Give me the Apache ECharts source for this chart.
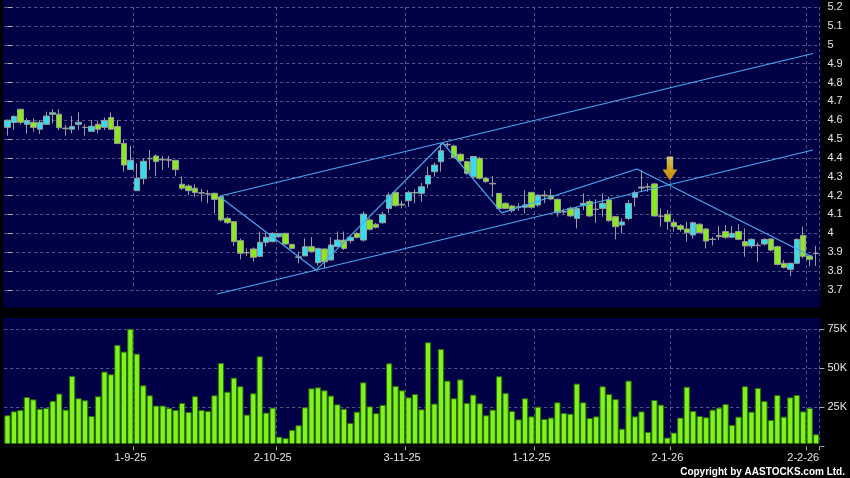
<!DOCTYPE html>
<html><head><meta charset="utf-8">
<script src="https://cdn.jsdelivr.net/npm/echarts@6/dist/echarts.min.js"></script>
<style>html,body{margin:0;padding:0;background:#000;}#c{width:850px;height:478px;}</style>
</head><body><div id="c"></div>
<script>
const categories = [
'5-8-25','6-8-25','7-8-25','8-8-25','11-8-25','12-8-25','13-8-25','14-8-25','15-8-25','18-8-25',
'19-8-25','20-8-25','21-8-25','22-8-25','25-8-25','26-8-25','27-8-25','28-8-25','29-8-25','1-9-25',
'2-9-25','3-9-25','4-9-25','5-9-25','8-9-25','9-9-25','10-9-25','11-9-25','12-9-25','15-9-25',
'16-9-25','17-9-25','18-9-25','19-9-25','22-9-25','23-9-25','24-9-25','25-9-25','26-9-25','29-9-25',
'30-9-25','2-10-25','3-10-25','6-10-25','8-10-25','9-10-25','10-10-25','13-10-25','14-10-25','15-10-25',
'16-10-25','17-10-25','20-10-25','21-10-25','22-10-25','23-10-25','24-10-25','27-10-25','28-10-25','30-10-25',
'31-10-25','3-11-25','4-11-25','5-11-25','6-11-25','7-11-25','10-11-25','11-11-25','12-11-25','13-11-25',
'14-11-25','17-11-25','18-11-25','19-11-25','20-11-25','21-11-25','24-11-25','25-11-25','26-11-25','27-11-25',
'28-11-25','1-12-25','2-12-25','3-12-25','4-12-25','5-12-25','8-12-25','9-12-25','10-12-25','11-12-25',
'12-12-25','15-12-25','16-12-25','17-12-25','18-12-25','19-12-25','22-12-25','23-12-25','24-12-25','29-12-25',
'30-12-25','31-12-25','2-1-26','5-1-26','6-1-26','7-1-26','8-1-26','9-1-26','12-1-26','13-1-26',
'14-1-26','15-1-26','16-1-26','19-1-26','20-1-26','21-1-26','22-1-26','23-1-26','26-1-26','27-1-26',
'28-1-26','29-1-26','30-1-26','2-2-26','3-2-26','4-2-26'];
const tickLabels = ['1-9-25','2-10-25','3-11-25','1-12-25','2-1-26','2-2-26'];

const opens = [4.562,4.588,4.658,4.578,4.589,4.552,4.578,4.631,4.632,4.558,
4.552,4.578,4.562,4.541,4.578,4.562,4.614,4.566,4.477,4.339,
4.226,4.290,4.395,4.410,4.393,4.390,4.387,4.260,4.251,4.239,
4.215,4.210,4.212,4.194,4.079,4.062,3.961,3.898,3.917,3.878,
3.952,3.956,3.982,4.000,3.941,3.875,3.880,3.929,3.844,3.917,
3.858,3.929,3.964,3.961,4.000,3.964,4.071,4.048,4.056,4.132,
4.217,4.155,4.173,4.217,4.212,4.262,4.327,4.380,4.470,4.463,
4.419,4.380,4.300,4.398,4.292,4.265,4.212,4.159,4.145,4.140,
4.138,4.217,4.150,4.203,4.200,4.180,4.115,4.133,4.079,4.147,
4.168,4.128,4.132,4.177,4.088,4.044,4.079,4.191,4.240,4.247,
4.262,4.092,4.101,4.058,4.040,4.023,3.991,4.048,4.023,3.969,
3.988,4.009,3.979,4.009,3.956,3.933,3.937,3.943,3.970,3.929,
3.841,3.809,3.841,3.988,3.880,3.894];
const closes = [4.600,4.620,4.589,4.598,4.562,4.589,4.622,4.640,4.560,4.555,
4.566,4.589,4.561,4.568,4.552,4.599,4.552,4.477,4.362,4.387,
4.292,4.382,4.398,4.381,4.389,4.388,4.338,4.239,4.226,4.216,
4.213,4.208,4.180,4.071,4.056,3.956,3.894,3.896,3.873,3.952,
3.979,4.000,3.998,3.943,3.920,3.872,3.929,3.903,3.920,3.849,
3.938,3.964,3.920,3.979,3.978,4.102,4.021,4.032,4.101,4.203,
4.147,4.150,4.217,4.214,4.247,4.306,4.362,4.438,4.472,4.401,
4.384,4.318,4.407,4.292,4.274,4.262,4.132,4.132,4.120,4.139,
4.150,4.138,4.203,4.198,4.182,4.109,4.113,4.092,4.131,4.159,
4.092,4.126,4.159,4.067,4.035,4.060,4.159,4.216,4.245,4.245,
4.092,4.090,4.062,4.035,4.021,4.003,4.056,4.003,3.959,3.967,
3.982,3.979,4.000,3.968,3.933,3.968,3.935,3.968,3.911,3.835,
3.819,3.841,3.968,3.878,3.862,3.892];
const lows = [4.518,4.550,4.578,4.530,4.539,4.527,4.576,4.583,4.548,4.518,
4.530,4.550,4.518,4.539,4.530,4.548,4.548,4.472,4.327,4.339,
4.226,4.260,4.336,4.304,4.336,4.348,4.304,4.230,4.203,4.193,
4.168,4.159,4.106,4.062,4.050,3.933,3.862,3.880,3.850,3.873,
3.930,3.952,3.975,3.938,3.915,3.841,3.880,3.903,3.830,3.814,
3.858,3.929,3.911,3.947,3.973,3.956,4.015,4.025,4.050,4.106,
4.141,4.132,4.141,4.159,4.168,4.239,4.300,4.327,4.458,4.398,
4.375,4.310,4.292,4.285,4.268,4.194,4.124,4.128,4.110,4.120,
4.106,4.130,4.140,4.160,4.175,4.088,4.100,4.088,4.026,4.124,
4.085,4.056,4.088,4.062,3.968,4.000,4.070,4.141,4.221,4.221,
4.088,4.035,4.018,4.009,4.009,3.956,3.973,4.000,3.920,3.935,
3.965,3.970,3.975,3.964,3.876,3.920,3.849,3.935,3.903,3.830,
3.814,3.773,3.837,3.867,3.827,3.827];
const highs = [4.602,4.625,4.660,4.610,4.610,4.601,4.645,4.659,4.659,4.575,
4.622,4.641,4.578,4.601,4.597,4.614,4.641,4.601,4.499,4.463,
4.371,4.398,4.442,4.419,4.410,4.410,4.390,4.302,4.260,4.260,
4.235,4.230,4.216,4.200,4.088,4.062,3.973,3.920,3.925,4.009,
4.004,4.005,4.002,4.002,3.945,3.903,3.973,3.979,3.920,3.920,
3.979,4.009,4.009,3.991,4.005,4.115,4.080,4.055,4.115,4.216,
4.222,4.173,4.226,4.233,4.267,4.353,4.375,4.477,4.482,4.470,
4.425,4.385,4.410,4.405,4.300,4.304,4.212,4.165,4.150,4.160,
4.228,4.220,4.205,4.226,4.235,4.185,4.130,4.141,4.141,4.212,
4.180,4.180,4.212,4.194,4.092,4.079,4.177,4.226,4.336,4.265,
4.269,4.132,4.124,4.074,4.049,4.062,4.062,4.053,4.026,3.982,
4.040,4.044,4.039,4.049,4.026,3.973,3.950,3.973,3.975,3.935,
3.858,3.845,3.973,4.035,3.885,3.933];
// volume, thousands of shares
const volumes = [19.9,22.4,23.3,31.6,30.1,24.1,24.6,29.1,33.8,23.5,
45.1,30.8,29.5,19.4,32.1,47.9,46.2,65.0,60.7,77.8,
59.4,39.1,32.7,26.1,26.1,24.6,23.3,27.8,22.0,32.1,
23.3,22.6,32.7,53.4,35.0,44.0,38.5,20.3,34.0,57.7,
21.6,24.8,6.2,5.3,10.5,13.5,25.0,37.2,37.8,35.9,
32.5,26.9,24.1,15.0,22.2,41.0,25.6,21.2,26.5,53.2,
38.7,35.9,31.4,33.5,23.7,66.7,27.4,62.4,42.1,30.8,
42.9,27.8,33.1,27.6,19.9,23.5,44.9,34.2,22.6,17.3,
30.8,19.2,25.4,17.5,18.4,28.2,21.4,20.9,40.2,28.2,
18.2,19.2,38.5,33.5,30.3,11.3,42.1,19.2,22.4,9.2,
29.7,26.7,5.6,8.8,18.4,38.2,22.6,19.4,18.6,23.5,
24.8,27.1,13.7,19.0,38.5,22.2,37.4,29.1,16.9,32.9,
19.0,31.4,32.9,22.4,24.6,7.7];

// trend-line annotations: [day index, price]
const zigzag = [[32.86,4.193],[47.7,3.805],[67.3,4.479],[76.4,4.108],[97.3,4.341],[124.5,3.874]];
const upperChannel = [[32.86,4.198],[124.5,4.954]];
const lowerChannel = [[32.4,3.678],[124.5,4.442]];
const signalArrow = [[102.4,4.344]];

const N = categories.length;
const GRID_LINE = '#58588e';
const TXT = '#e6e6e6';
const FONT = 'Liberation Sans';
const splitAt = (i) => i > 0 && tickLabels.indexOf(categories[i-1]) >= 0;

const chart = echarts.init(document.getElementById('c'), null, {renderer:'canvas'});
const trend = (d) => ({
  type:'line', xAxisIndex:2, yAxisIndex:0, data:d, showSymbol:false, clip:false, silent:true,
  lineStyle:{color:'#4aa8ee', width:1.2}, z:5, animation:false
});
chart.setOption({
  backgroundColor:'#000',
  animation:false,
  graphic:[
    {type:'rect', z:-100, shape:{x:3, y:0, width:817.5, height:307.5}, style:{fill:'#000046'}, silent:true},
    {type:'rect', z:-100, shape:{x:3, y:318, width:817.5, height:125.5}, style:{fill:'#000046'}, silent:true},
    {type:'rect', z:100, shape:{x:0, y:443.5, width:822, height:2.8}, style:{fill:'#000'}, silent:true},
    {type:'text', z:100, x:845, y:472, style:{text:'Copyright by AASTOCKS.com Ltd.', fill:'#ffffff',
      fontFamily:FONT, fontSize:10, fontWeight:'bold', align:'right', verticalAlign:'middle'}}
  ],
  grid:[
    {left:4.2, width:815.2, top:7.1, height:282.75, outerBoundsMode:'none'},
    {left:4.2, width:815.2, top:329.3, height:117, outerBoundsMode:'none'}
  ],
  xAxis:[
    {type:'category', gridIndex:0, data:categories, boundaryGap:true,
     axisLine:{show:false}, axisTick:{show:false}, axisLabel:{show:false},
     splitLine:{show:true, interval:splitAt, lineStyle:{color:GRID_LINE, type:[3,3], width:1}}},
    {type:'category', gridIndex:1, data:categories, boundaryGap:true,
     axisLine:{show:false},
     axisTick:{show:true, interval:splitAt, length:4, lineStyle:{color:'#b0b0b0'}},
     axisLabel:{show:true, interval:(i,v)=>tickLabels.indexOf(v)>=0, color:TXT, fontSize:11, fontFamily:FONT, margin:6},
     splitLine:{show:true, interval:splitAt, lineStyle:{color:GRID_LINE, type:[3,3], width:1}}},
    {type:'value', gridIndex:0, min:-0.5, max:N-0.5, show:false}
  ],
  yAxis:[
    {type:'value', gridIndex:0, position:'right', min:3.7, max:5.2, interval:0.1, scale:true,
     axisLine:{show:false}, axisTick:{show:true, length:5, lineStyle:{color:'#b0b0b0'}},
     axisLabel:{color:TXT, fontSize:11, fontFamily:FONT, margin:8},
     splitLine:{show:true, lineStyle:{color:GRID_LINE, type:[3,3], width:1}}},
    {type:'value', gridIndex:1, position:'right', min:0, max:75, interval:25,
     axisLine:{show:false}, axisTick:{show:true, length:5, lineStyle:{color:'#b0b0b0'}},
     axisLabel:{color:TXT, fontSize:11, fontFamily:FONT, margin:8, formatter:(v)=> v===0 ? '' : v+'K'},
     splitLine:{show:true, showMinLine:false, lineStyle:{color:GRID_LINE, type:[3,3], width:1}}}
  ],
  series:[
    {type:'candlestick', xAxisIndex:0, yAxisIndex:0, barWidth:6,
     data: categories.map((_, i) => [opens[i], closes[i], lows[i], highs[i]]),
     itemStyle:{color:'#30def0', color0:'#88ea1e', borderColor:'#9c9c9c', borderColor0:'#9c9c9c', borderWidth:1},
     z:3},
    {type:'bar', xAxisIndex:1, yAxisIndex:1, data:volumes, barCategoryGap:'3%',
     itemStyle:{color:'#80f21c', borderColor:'#2c6c0c', borderWidth:1}},
    trend(zigzag), trend(upperChannel), trend(lowerChannel),
    {type:'scatter', xAxisIndex:2, yAxisIndex:0, data:signalArrow, silent:true, z:6,
     symbol:'path://M4,0 L10,0 L10,13 L14,13 L7,24 L0,13 L4,13 Z', symbolSize:[15,24],
     itemStyle:{color:new echarts.graphic.LinearGradient(0,0,0,1,[{offset:0,color:'#fff27a'},{offset:0.45,color:'#ffd21a'},{offset:1,color:'#f7a400'}]),
       borderWidth:0}}
  ]
});
</script></body></html>
